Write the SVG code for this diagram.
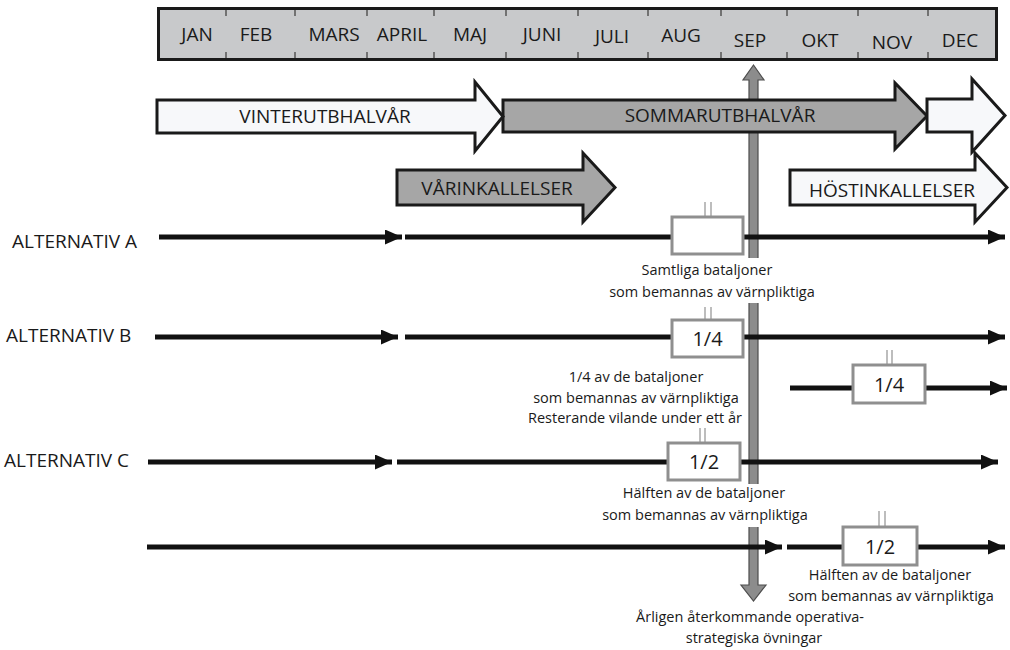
<svg xmlns="http://www.w3.org/2000/svg" width="1010" height="650" viewBox="0 0 1010 650">
<style>
text{font-family:"Open Sans","Noto Sans","Liberation Sans",sans-serif;fill:#1a1a1a}
.m{font-size:19px;text-anchor:middle}
.big{font-size:19px;text-anchor:middle}
.alt{font-size:19px}
.s{font-size:14.5px;text-anchor:middle}
.n{font-size:20px;text-anchor:middle}
.tick{stroke:#555;stroke-width:1.5}
.wa{fill:#f7f8fa;stroke:#1a1a1a;stroke-width:3;stroke-linejoin:miter}
.ga{fill:#a6a6a6;stroke:#1a1a1a;stroke-width:3;stroke-linejoin:miter}
.ln{stroke:#111;stroke-width:5;fill:none}
.bx{fill:#fff;stroke:#8f8f8f;stroke-width:3}
.pp{stroke:#a8a8a8;stroke-width:1.5}
</style>
<defs>
<marker id="ah" viewBox="0 0 17 15" markerWidth="17" markerHeight="15" refX="17" refY="7.5" orient="auto" markerUnits="userSpaceOnUse">
<path d="M0,0 L17,7.5 L0,15 Z" fill="#111"/>
</marker>
</defs>

<g id="months">
<rect x="158.5" y="8.5" width="838" height="51" fill="#c8c9cb" stroke="#1a1a1a" stroke-width="3"/>
<g class="tick">
<path d="M226,10V16M295,10V16M367,10V16M434,10V16M506,10V16M578,10V16M648,10V16M721,10V16M787,10V16M858,10V16M928,10V16"/>
<path d="M226,52V58M295,52V58M367,52V58M434,52V58M506,52V58M578,52V58M648,52V58M721,52V58M787,52V58M858,52V58M928,52V58"/>
</g>
<text class="m" x="197" y="41">JAN</text>
<text class="m" x="256" y="41">FEB</text>
<text class="m" x="334" y="41">MARS</text>
<text class="m" x="402" y="41">APRIL</text>
<text class="m" x="470" y="41">MAJ</text>
<text class="m" x="542" y="41">JUNI</text>
<text class="m" x="612" y="43">JULI</text>
<text class="m" x="681" y="42">AUG</text>
<text class="m" x="750" y="47">SEP</text>
<text class="m" x="820" y="47">OKT</text>
<text class="m" x="892" y="49">NOV</text>
<text class="m" x="960" y="47">DEC</text>
</g>

<g id="sep-ovningar">
<path d="M753.5,65 L764,80 L758,80 L758,585 L766,585 L753.5,601 L741,585 L749,585 L749,80 L743,80 Z" fill="#8c8c8c" stroke="#4d4d4d" stroke-width="1.2"/>
<rect x="603" y="258" width="218" height="45" fill="#fff"/>
<rect x="595" y="484" width="220" height="43" fill="#fff"/>
<text class="s" x="750" y="622">Årligen återkommande operativa-</text>
<text class="s" x="754" y="643">strategiska övningar</text>
</g>

<g id="sommar">
<path class="ga" d="M503,100 L895,100 L895,83 L927,116 L895,149 L895,132 L503,132 Z"/>
<text class="big" x="720" y="122">SOMMARUTBHALVÅR</text>
</g>
<g id="vinter">
<path class="wa" d="M157,100 L475,100 L475,82 L503,116.5 L475,151 L475,133 L157,133 Z"/>
<text class="big" x="325" y="123">VINTERUTBHALVÅR</text>
</g>
<g id="vinter2">
<path class="wa" d="M927,99 L972,99 L972,79 L1005,115.5 L972,152 L972,132 L927,132 Z"/>
</g>
<g id="varinkallelser">
<path class="ga" d="M397,170 L583,170 L583,153 L615,187.5 L583,222 L583,205 L397,205 Z"/>
<text class="big" x="497" y="195">VÅRINKALLELSER</text>
</g>
<g id="hostinkallelser">
<path class="wa" d="M790,170 L975,170 L975,153 L1007,187.5 L975,222 L975,205 L790,205 Z"/>
<text class="big" x="892" y="197">HÖSTINKALLELSER</text>
</g>

<g id="labels">
<text class="alt" x="12" y="248">ALTERNATIV A</text>
<text class="alt" x="6" y="342">ALTERNATIV B</text>
<text class="alt" x="4" y="467">ALTERNATIV C</text>
</g>

<g id="connectors">
<path class="ln" marker-end="url(#ah)" d="M159,237 H402"/>
<path class="ln" marker-end="url(#ah)" d="M405,237 H1005"/>
<path class="ln" marker-end="url(#ah)" d="M155,337 H398"/>
<path class="ln" marker-end="url(#ah)" d="M405,337 H1005"/>
<path class="ln" marker-end="url(#ah)" d="M790,388 H1007"/>
<path class="ln" marker-end="url(#ah)" d="M148,462 H392"/>
<path class="ln" marker-end="url(#ah)" d="M397,462 H998"/>
<path class="ln" marker-end="url(#ah)" d="M147,547 H782"/>
<path class="ln" marker-end="url(#ah)" d="M787,547 H1005"/>
</g>

<g id="box-a">
<path class="pp" d="M705,202V217M711,202V217"/>
<rect class="bx" x="672" y="217" width="71" height="37"/>
<text class="s" x="707" y="275">Samtliga bataljoner</text>
<text class="s" x="712" y="297">som bemannas av värnpliktiga</text>
</g>
<g id="box-b1">
<path class="pp" d="M705,307V320M711,307V320"/>
<rect class="bx" x="672" y="320" width="71" height="37"/>
<text class="n" x="707.5" y="346">1/4</text>
<text class="s" x="636" y="382">1/4 av de bataljoner</text>
<text class="s" x="636" y="403">som bemannas av värnpliktiga</text>
<text class="s" x="635" y="423">Resterande vilande under ett år</text>
</g>
<g id="box-b2">
<path class="pp" d="M887,350V365M892,350V365"/>
<rect class="bx" x="853" y="365" width="72" height="38"/>
<text class="n" x="889" y="392">1/4</text>
</g>
<g id="box-c1">
<path class="pp" d="M700,428V443M705,428V443"/>
<rect class="bx" x="668" y="443" width="72" height="37"/>
<text class="n" x="704" y="469">1/2</text>
<text class="s" x="704" y="498">Hälften av de bataljoner</text>
<text class="s" x="705" y="520">som bemannas av värnpliktiga</text>
</g>
<g id="box-c2">
<path class="pp" d="M879,511V527M885,511V527"/>
<rect class="bx" x="843" y="527" width="74" height="38"/>
<text class="n" x="880" y="554">1/2</text>
<text class="s" x="890" y="580">Hälften av de bataljoner</text>
<text class="s" x="891" y="601">som bemannas av värnpliktiga</text>
</g>
</svg>
